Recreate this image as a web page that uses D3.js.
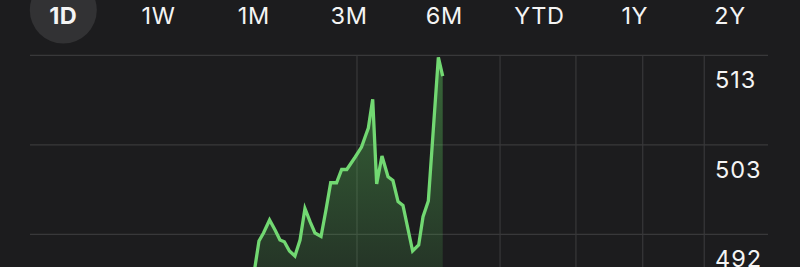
<!DOCTYPE html>
<html>
<head>
<meta charset="utf-8">
<script src="https://cdn.jsdelivr.net/npm/d3@7"></script>
<style>
  html, body { margin: 0; padding: 0; background: #1c1c1e; }
  svg { display: block; }
</style>
</head>
<body>
<svg id="chart" width="800" height="267"></svg>
<script>
// ---- data ----
const ranges = ["1D", "1W", "1M", "3M", "6M", "YTD", "1Y", "2Y"];
const selectedRange = "1D";
// minutes since open
const times = [118.4, 121.0, 123.4, 126.6, 129.5, 132.1, 134.4, 137.1, 140.0, 142.7,
  145.3, 148.0, 150.6, 153.8, 156.4, 158.9, 162.0, 164.7, 167.4, 171.7,
  175.2, 177.6, 178.8, 181.1, 183.2, 186.0, 189.2, 191.8, 194.5, 197.1,
  202.2, 205.4, 207.7, 210.5, 215.8, 218.1];
const prices = [487.66, 491.41, 492.35, 493.88, 492.70, 491.53, 491.32, 490.24, 489.65, 491.53,
  495.23, 493.68, 492.35, 491.94, 495.05, 498.25, 498.25, 499.80, 499.80, 501.21,
  502.44, 503.93, 504.67, 508.04, 498.10, 501.39, 498.96, 498.51, 496.03, 495.58,
  490.24, 490.95, 494.27, 496.11, 512.97, 510.77];
const priceGrid = [513.2, 502.7, 492.2];
const priceLabels = ["513", "503", "492"];
const timeGrid = [172.8, 248.4, 288.5, 323.8, 356.3];

// ---- layout ----
const svg = d3.select("#chart");
const plot = { left: 30, right: 768, top: 55.3, bottom: 267 };
const x = d3.scaleLinear().domain([0, 390]).range([plot.left, plot.right]);
const y = d3.scaleLinear().domain([492.2, 513.2]).range([234.3, 55.3]);

const data = times.map((t, i) => ({ t, v: prices[i] }));

const defs = svg.append("defs");
const grad = defs.append("linearGradient")
  .attr("id", "fillGrad")
  .attr("gradientUnits", "userSpaceOnUse")
  .attr("x1", 0).attr("x2", 0)
  .attr("y1", plot.top).attr("y2", plot.bottom);
grad.append("stop").attr("offset", "0%").attr("stop-color", "#5fd35f").attr("stop-opacity", 0.42);
grad.append("stop").attr("offset", "100%").attr("stop-color", "#5fd35f").attr("stop-opacity", 0.14);

defs.append("clipPath").attr("id", "clip")
  .append("rect").attr("x", 0).attr("y", 0).attr("width", 800).attr("height", 267);

const font = "Inter, 'Noto Sans', sans-serif";

// range selector
const bx = d3.scalePoint().domain(ranges).range([63.3, 730]);
svg.append("circle")
  .attr("cx", bx(selectedRange)).attr("cy", 10).attr("r", 33.5)
  .attr("fill", "#323234");
svg.selectAll("text.range").data(ranges).join("text")
  .attr("class", "range")
  .attr("x", d => bx(d))
  .attr("y", 23.5)
  .attr("text-anchor", "middle")
  .attr("font-family", font)
  .attr("font-size", 23.5)
  .attr("letter-spacing", 0.6)
  .attr("font-weight", d => d === selectedRange ? 700 : 400)
  .attr("fill", "#f4f4f4")
  .text(d => d);

// grid
const gridColor = "#38383a";
svg.append("g").selectAll("line").data(priceGrid).join("line")
  .attr("x1", plot.left).attr("x2", plot.right)
  .attr("y1", d => y(d)).attr("y2", d => y(d))
  .attr("stroke", gridColor).attr("stroke-width", 1.2);
svg.append("g").selectAll("line").data(timeGrid).join("line")
  .attr("x1", d => x(d)).attr("x2", d => x(d))
  .attr("y1", plot.top).attr("y2", plot.bottom)
  .attr("stroke", gridColor).attr("stroke-width", 1.2);

// price labels
svg.append("g").selectAll("text").data(priceGrid).join("text")
  .attr("x", 715)
  .attr("y", d => y(d) + 33)
  .attr("font-family", font)
  .attr("font-size", 23.5)
  .attr("letter-spacing", 1)
  .attr("fill", "#f4f4f4")
  .text((d, i) => priceLabels[i]);

// area + line
const g = svg.append("g").attr("clip-path", "url(#clip)");
const area = d3.area().x(d => x(d.t)).y0(plot.bottom + 20).y1(d => y(d.v));
const line = d3.line().x(d => x(d.t)).y(d => y(d.v));
g.append("path").datum(data).attr("d", area).attr("fill", "url(#fillGrad)");
g.append("path").datum(data).attr("d", line)
  .attr("fill", "none")
  .attr("stroke", "#72d872")
  .attr("stroke-width", 3.3)
  .attr("stroke-linejoin", "miter")
  .attr("stroke-linecap", "butt");
</script>
</body>
</html>
